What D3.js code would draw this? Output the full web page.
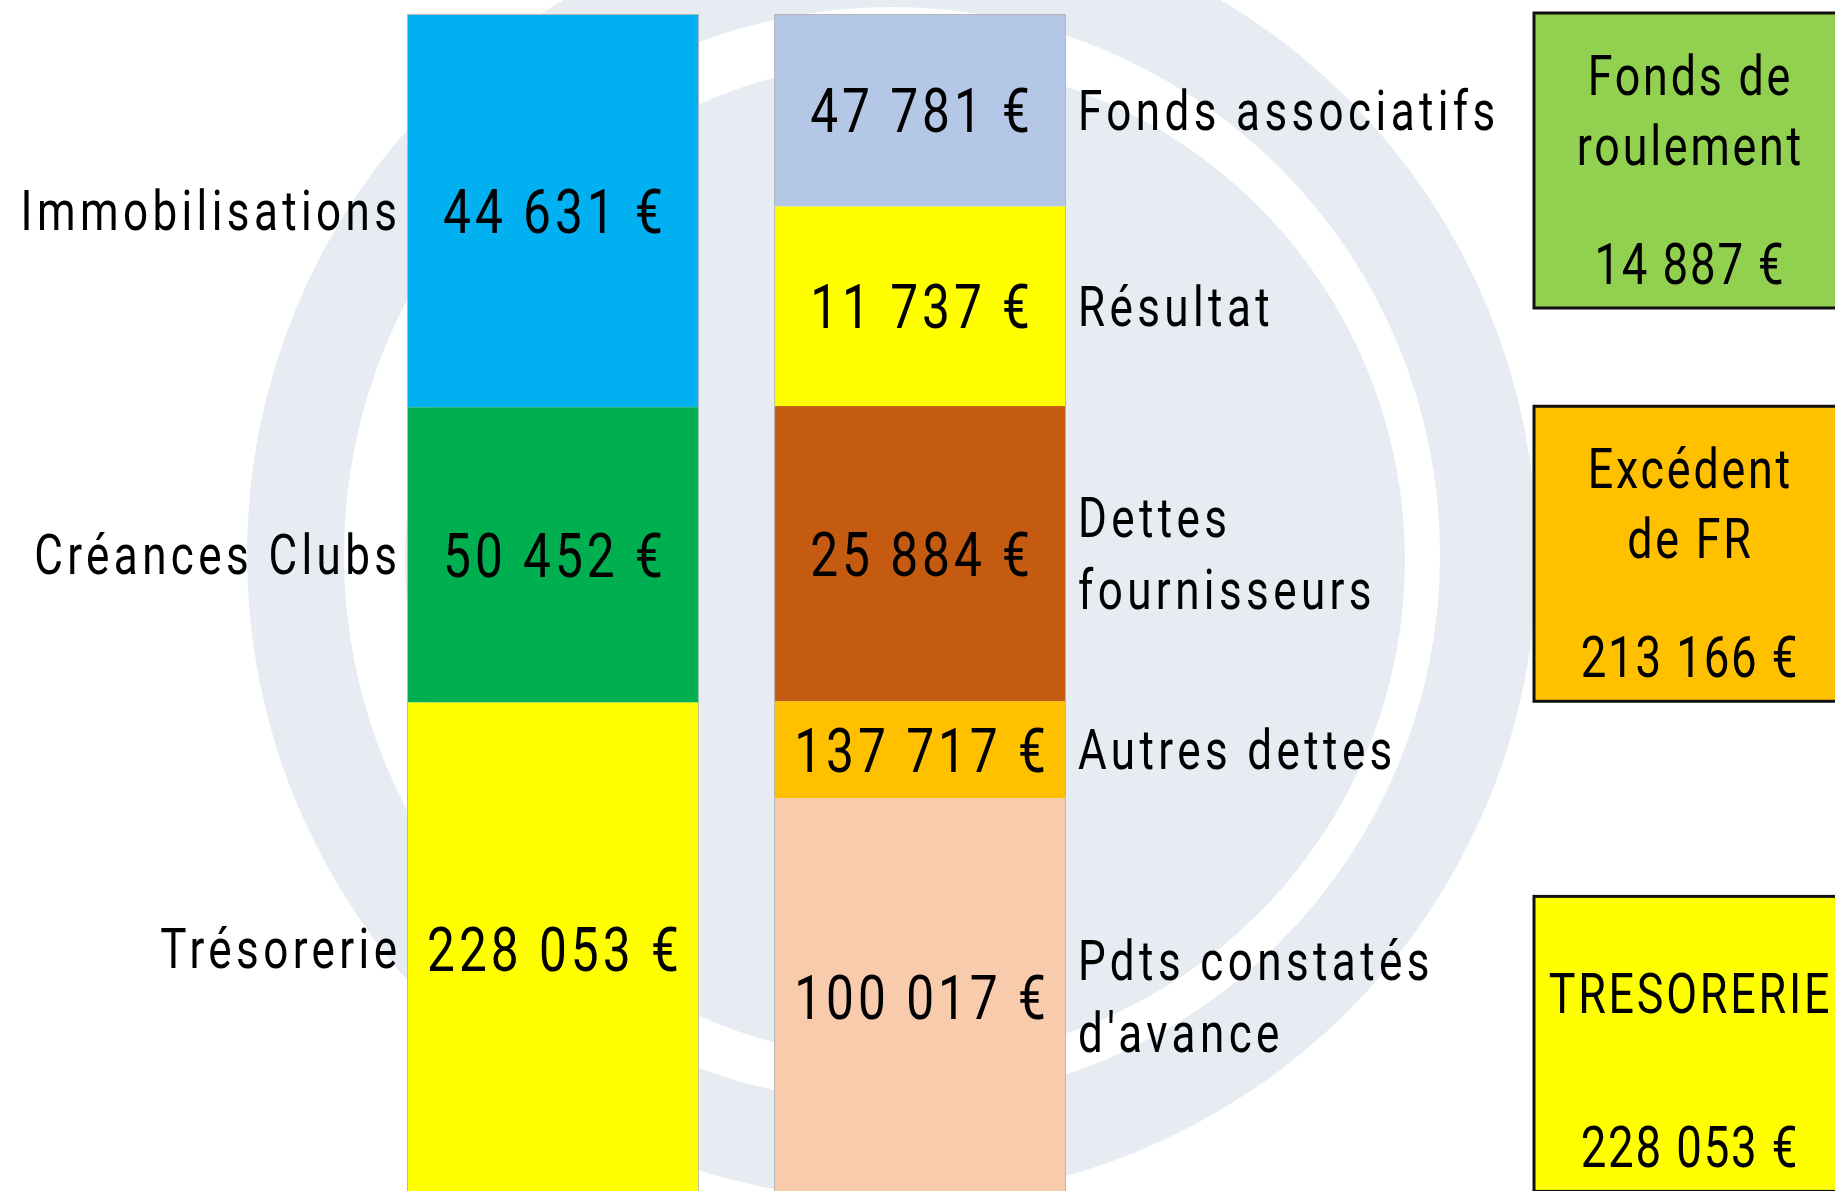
<!DOCTYPE html>
<html>
<head>
<meta charset="utf-8">
<script src="https://cdn.jsdelivr.net/npm/d3@7"></script>
<style>
  html, body { margin: 0; padding: 0; background: #fff; overflow: hidden; }
  svg { display: block; }
</style>
</head>
<body>
<div id="main-container"></div>
<script>
// Actif (left column)
const ACTIF_LABELS = ['Immobilisations', 'Créances Clubs', 'Trésorerie'];
const ACTIF_VALUES = [44631, 50452, 228053];
const ACTIF_SHARES = [33.3, 25.0, 41.7];          // height drawn, % of the column
const ACTIF_COLORS = ['#00b0f0', '#00b050', '#ffff00'];

// Passif (right column)
const PASSIF_LABELS = ['Fonds associatifs', 'Résultat', 'Dettes\nfournisseurs', 'Autres dettes', "Pdts constatés\nd'avance"];
const PASSIF_VALUES = [47781, 11737, 25884, 137717, 100017];
const PASSIF_SHARES = [16.3, 16.9, 25.0, 8.2, 33.6];
const PASSIF_COLORS = ['#b4c7e7', '#ffff00', '#c55a11', '#ffc000', '#f8cbad'];

// Ratio boxes
const RATIO_LABELS = ['Fonds de\nroulement', 'Excédent\nde FR', 'TRESORERIE'];
const RATIO_VALUES = [14887, 213166, 228053];
const RATIO_COLORS = ['#92d050', '#ffc000', '#ffff00'];

const WIDTH = 1835;
const HEIGHT = 1191;
const COL_TOP = 14;
const COL_BOTTOM = 1195;
const FONT = 'Roboto, "Liberation Sans", sans-serif';
const SQUEEZE = 0.8;            // text is condensed + spaced out in the original
const WATERMARK = '#e7ecf3';

const SVG = d3.select('#main-container').append('svg')
    .attr('width', WIDTH)
    .attr('height', HEIGHT);

const fr = d3.formatLocale({ decimal: ',', thousands: '\u00a0', grouping: [3], currency: ['', '\u00a0€'] });
const euro = fr.format('$,.0f');

// Scales
const Y_SCALE = d3.scaleLinear().domain([0, 100]).range([COL_TOP, COL_BOTTOM]);
const X_SCALE = d3.scaleBand()
    .domain(['actif', 'passif'])
    .range([407, 1066])
    .paddingInner(0.205);
const BW = X_SCALE.bandwidth();

// Background logo (faint): ring + inner disc
const BG = SVG.append('g').attr('id', 'watermark');
BG.append('path')
    .attr('transform', 'translate(892,555)')
    .attr('d', d3.arc()({ innerRadius: 548, outerRadius: 645, startAngle: 0, endAngle: 2 * Math.PI }))
    .attr('fill', WATERMARK);
BG.append('circle')
    .attr('cx', 905).attr('cy', 560).attr('r', 500)
    .attr('fill', WATERMARK);

// helper for condensed text
function squeezed(g, x, y, str, size, anchor, spacing) {
    // letter-spacing adds a trailing gap: shift so the ink stays anchored
    const shift = anchor === 'end' ? spacing * SQUEEZE : anchor === 'middle' ? spacing * SQUEEZE / 2 : 0;
    g.append('text')
        .attr('transform', `translate(${x + shift},${y}) scale(${SQUEEZE},1)`)
        .attr('text-anchor', anchor)
        .style('font-family', FONT)
        .style('font-size', `${size}px`)
        .style('letter-spacing', `${spacing}px`)
        .attr('fill', '#000')
        .text(str);
}

function stackShares(shares) {
    let acc = 0;
    return shares.map(s => { const y0 = acc; acc += s; return [y0, acc]; });
}

function drawColumn(key, labels, values, shares, colors, labelSide) {
    const rows = stackShares(shares).map((s, i) => ({
        label: labels[i], value: values[i], y0: s[0], y1: s[1], color: colors[i]
    }));
    const g = SVG.append('g').attr('id', `col-${key}`);
    const x0 = X_SCALE(key);

    g.selectAll('rect')
        .data(rows).enter()
        .append('rect')
        .attr('x', x0)
        .attr('y', d => Y_SCALE(d.y0))
        .attr('width', BW)
        .attr('height', d => Y_SCALE(d.y1) - Y_SCALE(d.y0))
        .attr('fill', d => d.color);

    g.append('rect')
        .attr('x', x0 + 0.5).attr('y', Y_SCALE(0) + 0.5)
        .attr('width', BW - 1).attr('height', Y_SCALE(100) - Y_SCALE(0))
        .attr('fill', 'none')
        .attr('stroke', '#b7b7b7')
        .attr('stroke-width', 1);

    const VAL_SIZE = 62;
    const LAB_SIZE = 55;
    const LINE_H = 72;
    rows.forEach(d => {
        const cy = (Y_SCALE(d.y0) + Y_SCALE(d.y1)) / 2;
        squeezed(g, x0 + BW / 2, cy + VAL_SIZE * 0.711 / 2, euro(d.value), VAL_SIZE, 'middle', 5);
        const lines = d.label.split('\n');
        lines.forEach((line, i) => {
            const yy = cy + LAB_SIZE * 0.711 / 2 + (i - (lines.length - 1) / 2) * LINE_H;
            if (labelSide === 'left') squeezed(g, x0 - 10, yy, line, LAB_SIZE, 'end', 5.5);
            else squeezed(g, x0 + BW + 12, yy, line, LAB_SIZE, 'start', 5.5);
        });
    });
}

drawColumn('actif', ACTIF_LABELS, ACTIF_VALUES, ACTIF_SHARES, ACTIF_COLORS, 'left');
drawColumn('passif', PASSIF_LABELS, PASSIF_VALUES, PASSIF_SHARES, PASSIF_COLORS, 'right');

// Ratio boxes
const RATIO_ROWS = [0, 33.3, 74.8];   // box top, on the column scale
const BOX_X = 1534;
const BOX_W = 310;
const BOX_H = 295;
const BOXES = SVG.append('g').attr('id', 'ratios');
RATIO_LABELS.forEach((label, i) => {
    const top = Y_SCALE(RATIO_ROWS[i]) - 1;
    BOXES.append('rect')
        .attr('x', BOX_X).attr('y', top)
        .attr('width', BOX_W).attr('height', BOX_H)
        .attr('fill', RATIO_COLORS[i])
        .attr('stroke', '#111')
        .attr('stroke-width', 3);
    const cx = BOX_X + BOX_W / 2;
    const lines = label.split('\n');
    lines.forEach((line, j) => {
        squeezed(BOXES, cx, top + 117 + (j - (lines.length - 1) / 2) * 70, line, 56, 'middle', 3.5);
    });
    squeezed(BOXES, cx, top + 271, euro(RATIO_VALUES[i]), 57, 'middle', 2.3);
});
</script>
</body>
</html>
